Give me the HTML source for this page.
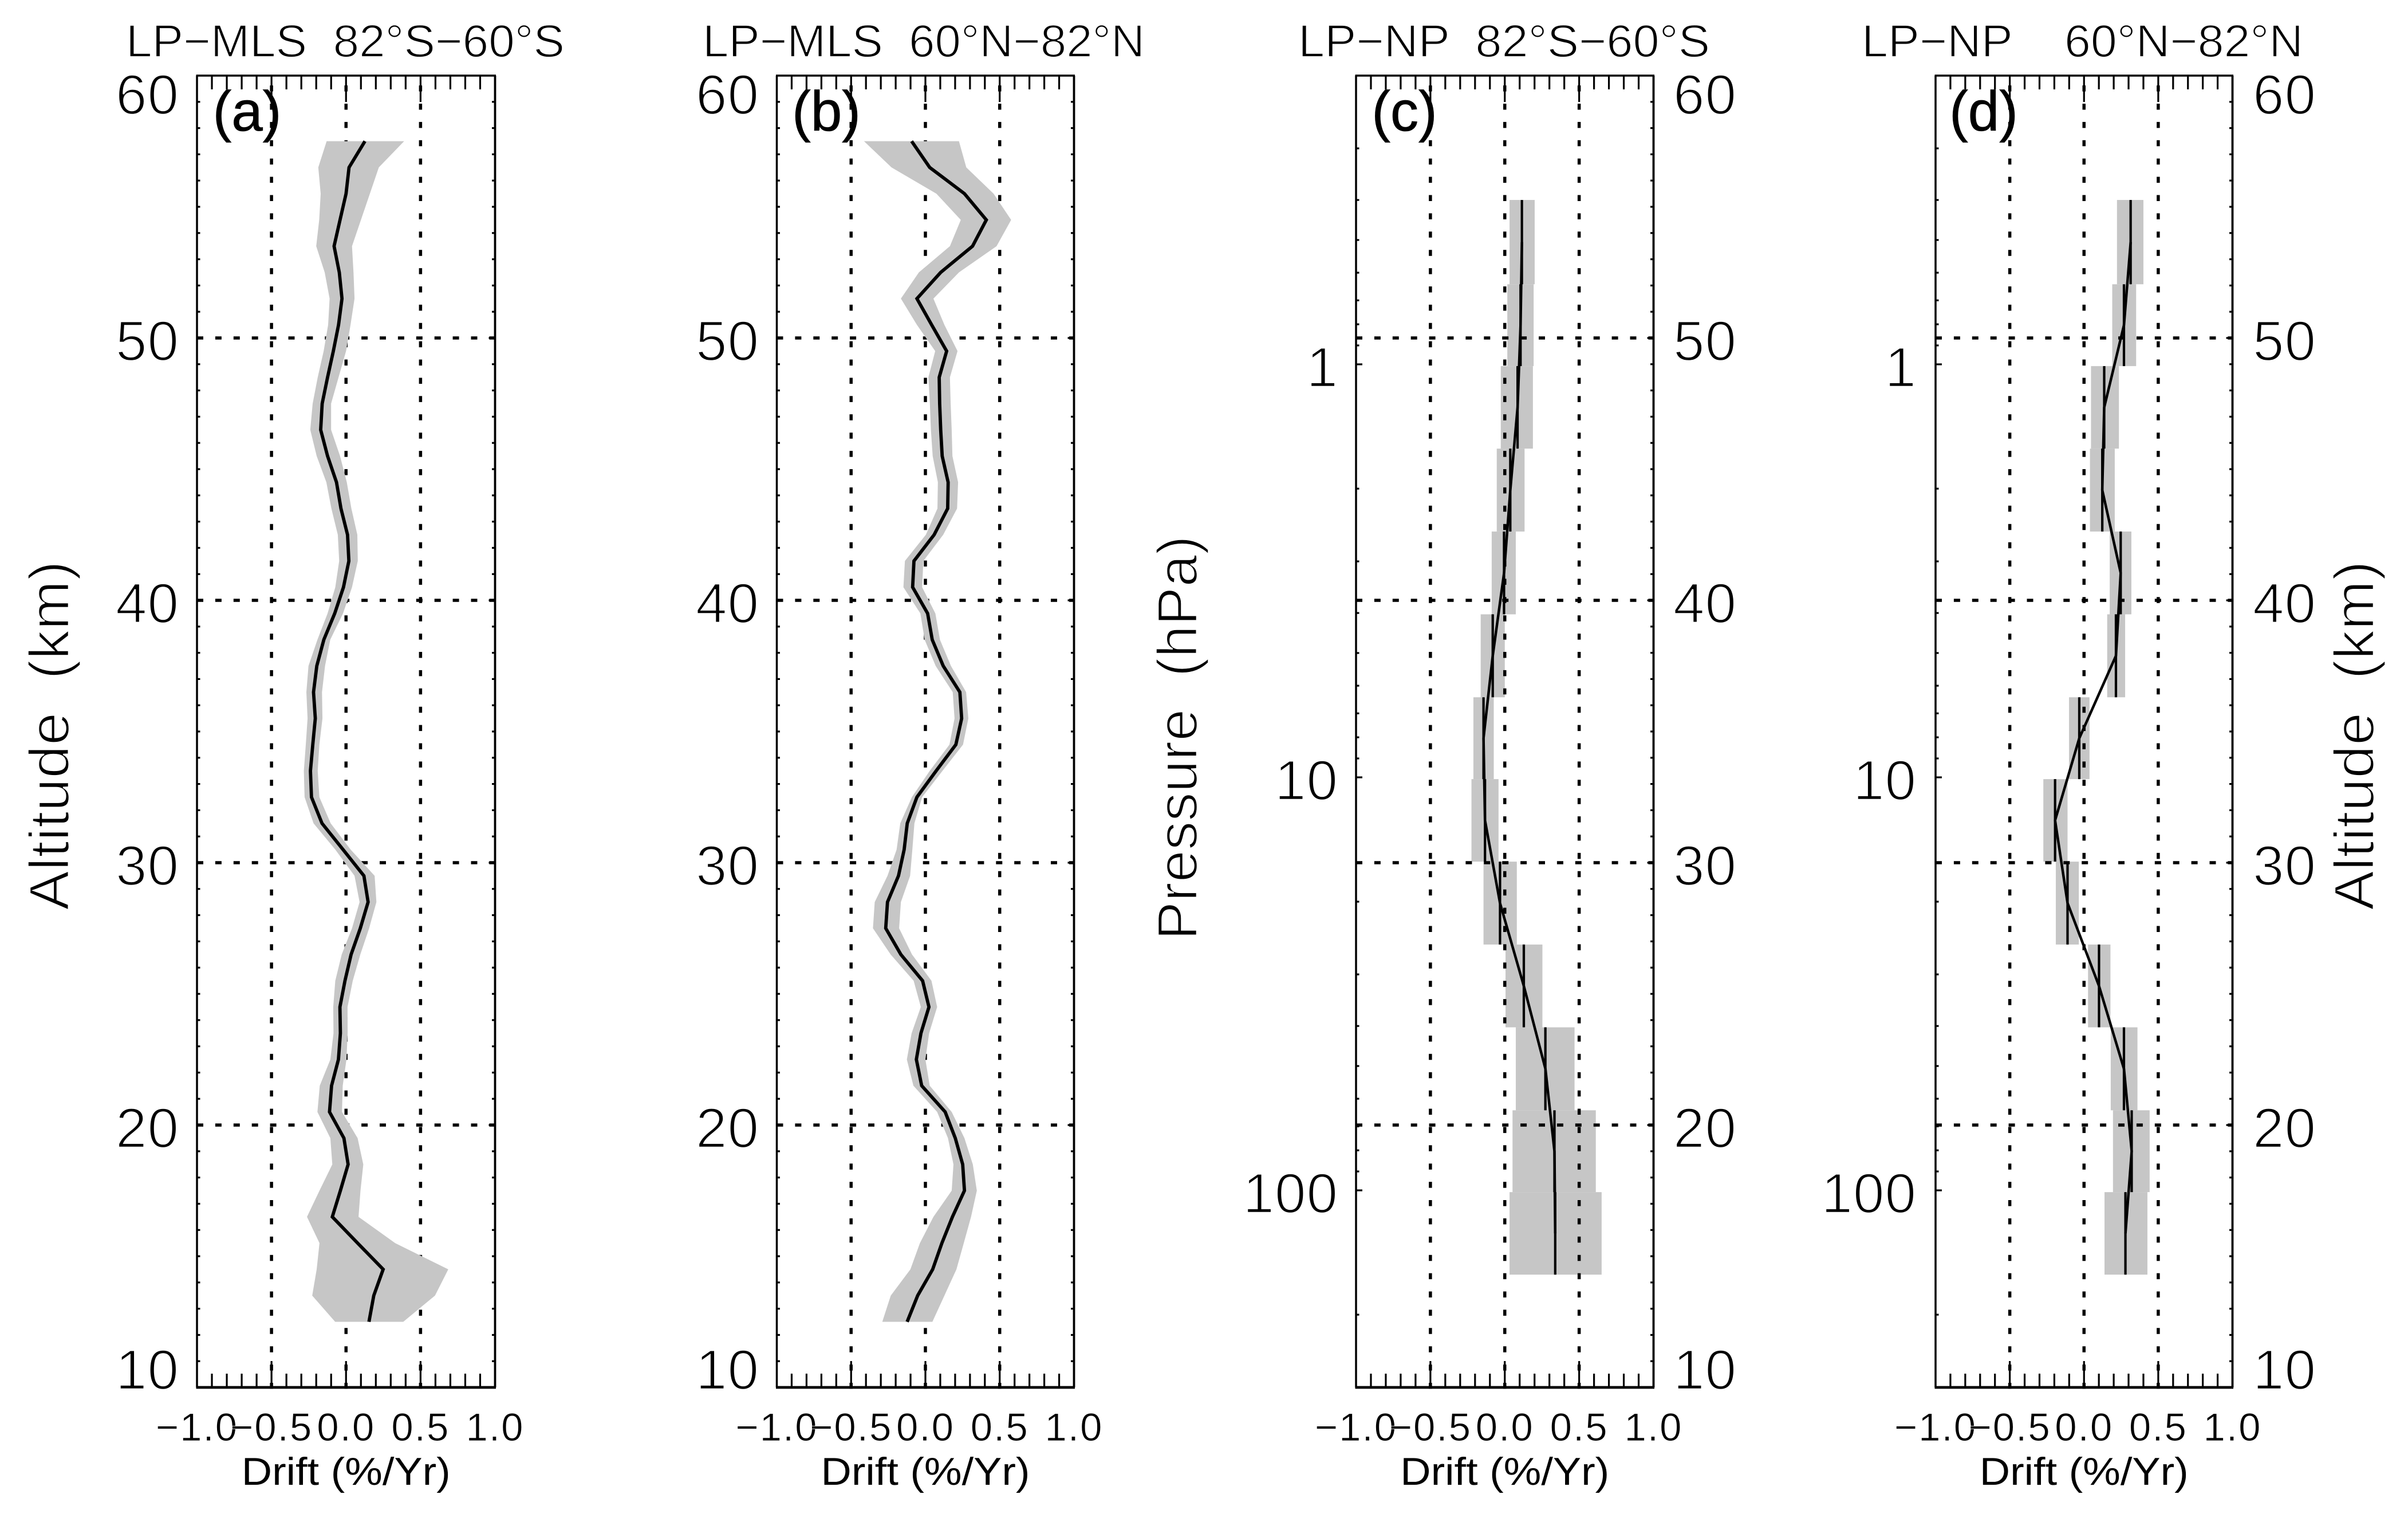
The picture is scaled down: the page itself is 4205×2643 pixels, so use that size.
<!DOCTYPE html>
<html lang="en">
<head>
<meta charset="utf-8">
<title>Ozone drift profiles</title>
<style>
html,body{margin:0;padding:0;background:#fff;}
svg{display:block;}
text{font-family:"Liberation Sans",sans-serif;fill:#000;white-space:pre;}
.thin-xl{stroke:#fff;stroke-width:2.5;}
.thin-l{stroke:#fff;stroke-width:1.8;}
.thin-m{stroke:#fff;stroke-width:0.8;}
</style>
</head>
<body>
<svg id="chart" xmlns="http://www.w3.org/2000/svg" width="4205" height="2643" viewBox="0 0 4205 2643">
  <rect x="0" y="0" width="4205" height="2643" fill="#fff"/>
  <g id="panels"></g>
  <g>
    <text class="thin-l" x="220" y="99" font-size="80" textLength="766" lengthAdjust="spacingAndGlyphs">LP−MLS  82°S−60°S</text>
    <text class="thin-l" x="1227" y="99" font-size="80" textLength="772" lengthAdjust="spacingAndGlyphs">LP−MLS  60°N−82°N</text>
    <text class="thin-l" x="2267" y="99" font-size="80" textLength="719" lengthAdjust="spacingAndGlyphs">LP−NP  82°S−60°S</text>
    <text class="thin-l" x="3251" y="99" font-size="80" textLength="771" lengthAdjust="spacingAndGlyphs">LP−NP    60°N−82°N</text>
  </g>
  <g>
    <text class="thin-xl" transform="translate(120 1284) rotate(-90)" text-anchor="middle" font-size="98" textLength="610" lengthAdjust="spacingAndGlyphs">Altitude  (km)</text>
    <text class="thin-xl" transform="translate(2090 1288) rotate(-90)" text-anchor="middle" font-size="98" textLength="706" lengthAdjust="spacingAndGlyphs">Pressure  (hPa)</text>
    <text class="thin-xl" transform="translate(4145 1284) rotate(-90)" text-anchor="middle" font-size="98" textLength="610" lengthAdjust="spacingAndGlyphs">Altitude  (km)</text>
  </g>
</svg>
<script>
// ---------- data ----------
const altitudes = [57.5,56.5,55.5,54.5,53.5,52.5,51.5,50.5,49.5,48.5,47.5,46.5,45.5,44.5,43.5,42.5,41.5,40.5,39.5,38.5,37.5,36.5,35.5,34.5,33.5,32.5,31.5,30.5,29.5,28.5,27.5,26.5,25.5,24.5,23.5,22.5,21.5,20.5,19.5,18.5,17.5,16.5,15.5,14.5,13.5,12.5];

const panelADrift = [0.127,0.02,0,-0.04,-0.08,-0.045,-0.027,-0.05,-0.085,-0.124,-0.16,-0.17,-0.124,-0.064,-0.034,0.01,0.019,-0.017,-0.076,-0.149,-0.196,-0.218,-0.206,-0.223,-0.239,-0.232,-0.161,-0.02,0.12,0.148,0.096,0.034,-0.007,-0.041,-0.038,-0.051,-0.097,-0.111,-0.014,0.014,-0.038,-0.092,0.078,0.249,0.186,0.154];
const panelALower = [-0.13,-0.186,-0.17,-0.18,-0.2,-0.143,-0.11,-0.12,-0.15,-0.19,-0.224,-0.24,-0.197,-0.132,-0.098,-0.055,-0.046,-0.072,-0.124,-0.192,-0.252,-0.266,-0.258,-0.27,-0.283,-0.278,-0.218,-0.072,0.057,0.091,0.04,-0.029,-0.072,-0.086,-0.084,-0.105,-0.176,-0.192,-0.105,-0.092,-0.178,-0.262,-0.178,-0.197,-0.227,-0.073];
const panelAUpper = [0.39,0.22,0.16,0.10,0.04,0.05,0.057,0.03,0,-0.05,-0.10,-0.10,-0.04,0.005,0.036,0.076,0.079,0.04,-0.02,-0.106,-0.141,-0.161,-0.158,-0.179,-0.19,-0.179,-0.103,0.031,0.192,0.204,0.155,0.096,0.045,0.01,0.011,0.003,-0.022,-0.027,0.078,0.116,0.097,0.084,0.33,0.686,0.597,0.384];

const panelBDrift = [-0.093,0.029,0.263,0.41,0.317,0.103,-0.057,0.042,0.143,0.093,0.096,0.103,0.113,0.153,0.15,0.059,-0.077,-0.086,0.015,0.046,0.12,0.232,0.244,0.205,0.072,-0.057,-0.122,-0.143,-0.181,-0.255,-0.267,-0.165,-0.019,0.024,-0.03,-0.061,-0.025,0.133,0.201,0.251,0.263,0.182,0.111,0.049,-0.052,-0.123];
const panelBLower = [-0.413,-0.228,0.074,0.238,0.165,-0.044,-0.165,-0.057,0.066,0.02,0.03,0.037,0.049,0.084,0.081,0.003,-0.138,-0.148,-0.034,-0.005,0.069,0.184,0.196,0.162,0.029,-0.091,-0.169,-0.194,-0.255,-0.341,-0.353,-0.234,-0.079,-0.031,-0.093,-0.125,-0.081,0.079,0.152,0.189,0.177,0.054,-0.037,-0.101,-0.233,-0.29];
const panelBUpper = [0.226,0.275,0.459,0.577,0.479,0.226,0.054,0.128,0.216,0.165,0.17,0.177,0.182,0.22,0.213,0.12,-0.014,-0.022,0.067,0.098,0.172,0.274,0.289,0.253,0.115,-0.022,-0.074,-0.088,-0.103,-0.165,-0.177,-0.09,0.041,0.079,0.025,0,0.029,0.177,0.263,0.319,0.346,0.307,0.258,0.209,0.128,0.047];

const layerBoundsHPa = [0.4,0.64,1.01,1.6,2.54,4.03,6.4,10.1,16,25.4,40.3,64,101,160];

const panelCDrift = [0.115,0.106,0.086,0.037,-0.005,-0.081,-0.143,-0.133,-0.032,0.128,0.273,0.334,0.339];
const panelCLower = [0.032,0.017,-0.027,-0.054,-0.088,-0.162,-0.211,-0.224,-0.143,0.005,0.074,0.052,0.032];
const panelCUpper = [0.201,0.194,0.189,0.133,0.074,0,-0.074,-0.042,0.081,0.253,0.469,0.612,0.651];

const panelDDrift = [0.314,0.269,0.136,0.123,0.247,0.215,-0.032,-0.195,-0.111,0.101,0.269,0.321,0.279];
const panelDLower = [0.222,0.19,0.047,0.04,0.173,0.156,-0.101,-0.274,-0.19,0.027,0.18,0.195,0.138];
const panelDUpper = [0.4,0.351,0.235,0.207,0.319,0.277,0.037,-0.111,-0.035,0.178,0.36,0.442,0.427];

const driftTickLabels = ["−1.0","−0.5","0.0","0.5","1.0"];
const driftTickValues = [-1,-0.5,0,0.5,1];
const driftGridValues = [-0.5,0,0.5];
const altitudeTickLabels = [60,50,40,30,20,10];
const altitudeGridValues = [50,40,30,20];
const pressureTickValues = [0.3,0.4,0.5,0.6,0.7,0.8,0.9,1,2,3,4,5,6,7,8,9,10,20,30,40,50,60,70,80,90,100,200];
const pressureTickLabels = [1,10,100];

// ---------- axis functions ----------
const plotTop = 132, plotBottom = 2422;
function altY(a){ return plotTop + (60 - a) * (plotBottom - plotTop) / 50; }
function presY(p){ return 636 + 721 * Math.log10(p); }
function driftX(panel, v){ return panel.left + (v + 1) / 2 * (panel.right - panel.left); }

const NS = "http://www.w3.org/2000/svg";
const root = document.getElementById("panels");
function make(tag, parent){ const e = document.createElementNS(NS, tag); parent.appendChild(e); return e; }
function setAll(e, props){ for (const k in props) e.setAttribute(k, props[k]); return e; }

function drawLine(parent, x1, y1, x2, y2, w){
  const l = make("line", parent);
  setAll(l, {x1:x1, y1:y1, x2:x2, y2:y2, stroke:"#000", "stroke-width":w});
  return l;
}

function drawGrid(g, panel){
  driftGridValues.forEach(function(v){
    const x = driftX(panel, v);
    const l = drawLine(g, x, plotBottom + 2.5, x, plotTop, 5.5);
    l.setAttribute("stroke-dasharray", "10.5 21.4");
    
    
  });
  altitudeGridValues.forEach(function(a){
    const y = altY(a);
    const l = drawLine(g, panel.left, y, panel.right, y, 5.5);
    l.setAttribute("stroke-dasharray", "11 20.9");
    
    
  });
}

function drawFrame(g, panel){
  const l = drawLine(g, panel.left, plotTop, panel.left, plotBottom, 3.5);
  
  
  const r = drawLine(g, panel.right, plotTop, panel.right, plotBottom, 3.8);
  
  
  const t = drawLine(g, panel.left - 1.5, plotTop, panel.right + 1.5, plotTop, 3.5);
  
  
  const b = drawLine(g, panel.left - 1.5, plotBottom, panel.right + 1.5, plotBottom, 4.8);
  
  
  for (let i = -10; i <= 10; i++){
    if (i === -10 || i === 10) continue;
    const x = driftX(panel, i / 10);
    const len = (i % 5 === 0) ? 46 : 24;
    const bt = drawLine(g, x, plotBottom, x, plotBottom - len, 3.2);
    
    
    const tt = drawLine(g, x, plotTop, x, plotTop + len, 3.2);
    
    
  }
}

function drawAltitudeTicks(g, x, dir){
  for (let a = 11; a < 60; a++){
    const y = altY(a);
    const len = (a % 10 === 0) ? 11 : 5.5;
    const t = drawLine(g, x, y, x + dir * len, y, 3.2);
    
    
  }
}

function drawPressureTicks(g, x){
  pressureTickValues.forEach(function(p){
    const y = presY(p);
    const len = pressureTickLabels.indexOf(p) >= 0 ? 11 : 5.5;
    const t = drawLine(g, x, y, x + len, y, 3.2);
    
    
  });
}

function altitudeLabelBaseline(a){
  if (a === 60) return altY(a) + 67;
  if (a === 10) return altY(a) + 3;
  return altY(a) + 39;
}

function drawAltitudeLabels(g, rightEdge){
  altitudeTickLabels.forEach(function(a){
    const t = make("text", g);
    setAll(t, {x:rightEdge, y:altitudeLabelBaseline(a), "text-anchor":"end", "font-size":98, "letter-spacing":1, "class":"thin-xl"});
    t.textContent = String(a);
    
    
  });
}

function drawPressureLabels(g, rightEdge){
  pressureTickLabels.forEach(function(p){
    const t = make("text", g);
    setAll(t, {x:rightEdge, y:presY(p) + 39, "text-anchor":"end", "font-size":98, "letter-spacing":1, "class":"thin-xl"});
    t.textContent = String(p);
    
    
  });
}

function drawDriftAxisText(g, panel){
  driftTickValues.forEach(function(v, i){
    const t = make("text", g);
    setAll(t, {x:driftX(panel, v), y:2515, "text-anchor":"middle", "font-size":69, "letter-spacing":2, "class":"thin-m"});
    t.textContent = driftTickLabels[i];
    
    
  });
  const title = make("text", g);
  setAll(title, {x:(panel.left + panel.right) / 2, y:2592, "text-anchor":"middle", "font-size":68, textLength:365, lengthAdjust:"spacingAndGlyphs"});
  title.textContent = "Drift (%/Yr)";
  
  
}

function drawPanelLetter(g, panel){
  const t = make("text", g);
  setAll(t, {x:panel.letterX, y:228, "text-anchor":"middle", "font-size":98, stroke:"#000", "stroke-width":0.8});
  t.textContent = panel.letter;
  
  
}

function drawContinuousSeries(g, panel, drift, lower, upper){
  const pts = [];
  altitudes.forEach(function(a, i){ pts.push(driftX(panel, upper[i]).toFixed(1) + "," + altY(a).toFixed(1)); });
  for (let i = altitudes.length - 1; i >= 0; i--){ pts.push(driftX(panel, lower[i]).toFixed(1) + "," + altY(altitudes[i]).toFixed(1)); }
  const band = make("polygon", g);
  setAll(band, {points:pts.join(" "), fill:"#c6c6c6"});
  
  
  const linePts = altitudes.map(function(a, i){ return driftX(panel, drift[i]).toFixed(1) + "," + altY(a).toFixed(1); });
  const line = make("polyline", g);
  setAll(line, {points:linePts.join(" "), fill:"none", stroke:"#000", "stroke-width":5.8, "stroke-linejoin":"miter"});
  
  
}

function drawLayerBands(g, panel, lower, upper){
  lower.forEach(function(lo, i){
    const y1 = presY(layerBoundsHPa[i]), y2 = presY(layerBoundsHPa[i + 1]);
    const r = make("rect", g);
    const x1 = driftX(panel, lo), x2 = driftX(panel, upper[i]);
    setAll(r, {x:x1, y:y1, width:x2 - x1, height:y2 - y1, fill:"#c6c6c6"});
    
    
  });
}

function drawLayerMarks(g, panel, drift){
  const pts = [];
  drift.forEach(function(v, i){
    const y1 = presY(layerBoundsHPa[i]), y2 = presY(layerBoundsHPa[i + 1]);
    const x = driftX(panel, v);
    const bar = drawLine(g, x, y1, x, y2, 4.2);
    
    
    pts.push(x.toFixed(1) + "," + ((y1 + y2) / 2).toFixed(1));
  });
  const line = make("polyline", g);
  setAll(line, {points:pts.join(" "), fill:"none", stroke:"#000", "stroke-width":4.5});
  
  
}

// ---------- layout ----------
const panelA = {left:344, right:864.5, letter:"(a)", letterX:431.5};
const panelB = {left:1356.5, right:1875.5, letter:"(b)", letterX:1443};
const panelC = {left:2368, right:2887.5, letter:"(c)", letterX:2452.5};
const panelD = {left:3380, right:3898.5, letter:"(d)", letterX:3464};

// ---------- panel a ----------
const gA = make("g", root);


drawGrid(gA, panelA);
drawContinuousSeries(gA, panelA, panelADrift, panelALower, panelAUpper);
drawFrame(gA, panelA);
drawAltitudeTicks(gA, panelA.left, 1);
drawAltitudeTicks(gA, panelA.right, -1);
drawAltitudeLabels(gA, 313);
drawDriftAxisText(gA, panelA);
drawPanelLetter(gA, panelA);

// ---------- panel b ----------
const gB = make("g", root);


drawGrid(gB, panelB);
drawContinuousSeries(gB, panelB, panelBDrift, panelBLower, panelBUpper);
drawFrame(gB, panelB);
drawAltitudeTicks(gB, panelB.left, 1);
drawAltitudeTicks(gB, panelB.right, -1);
drawAltitudeLabels(gB, 1326);
drawDriftAxisText(gB, panelB);
drawPanelLetter(gB, panelB);

// ---------- panel c ----------
const gC = make("g", root);


drawLayerBands(gC, panelC, panelCLower, panelCUpper);
drawGrid(gC, panelC);
drawLayerMarks(gC, panelC, panelCDrift);
drawFrame(gC, panelC);
drawPressureTicks(gC, panelC.left);
drawAltitudeTicks(gC, panelC.right, -1);
drawPressureLabels(gC, 2337);
drawAltitudeLabels(gC, 3033);
drawDriftAxisText(gC, panelC);
drawPanelLetter(gC, panelC);

// ---------- panel d ----------
const gD = make("g", root);


drawLayerBands(gD, panelD, panelDLower, panelDUpper);
drawGrid(gD, panelD);
drawLayerMarks(gD, panelD, panelDDrift);
drawFrame(gD, panelD);
drawPressureTicks(gD, panelD.left);
drawAltitudeTicks(gD, panelD.right, -1);
drawPressureLabels(gD, 3347);
drawAltitudeLabels(gD, 4045);
drawDriftAxisText(gD, panelD);
drawPanelLetter(gD, panelD);
</script>
</body>
</html>
